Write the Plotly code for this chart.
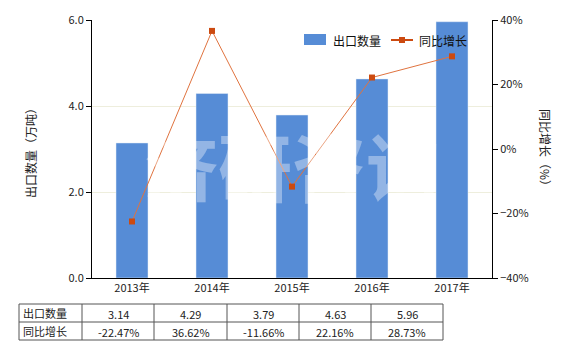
import plotly.graph_objects as go

years = ["2013年", "2014年", "2015年", "2016年", "2017年"]
export_qty = [3.14, 4.29, 3.79, 4.63, 5.96]
growth = [-22.47, 36.62, -11.66, 22.16, 28.73]
qty_labels = ["3.14", "4.29", "3.79", "4.63", "5.96"]
growth_labels = ["-22.47%", "36.62%", "-11.66%", "22.16%", "28.73%"]
row_names = ["出口数量", "同比增长"]

W, H = 580, 350
L, R, T, B = 92, 492, 20, 278
FONT = "Noto Sans CJK SC"
BAR_COLOR = "#568cd6"
LINE_COLOR = "#e0733f"
MARK_COLOR = "#cc4a10"

def px(x):
    return (x - L) / (R - L)

def py(y):
    return (B - y) / (B - T)

fig = go.Figure()
fig.add_trace(go.Bar(x=years, y=export_qty, name="出口数量", marker_color=BAR_COLOR,
                     width=0.4, yaxis="y", showlegend=False))
fig.add_trace(go.Scatter(x=years, y=growth, name="同比增长", yaxis="y2", mode="lines+markers",
                         line=dict(color=LINE_COLOR, width=1),
                         marker=dict(symbol="square", size=6, color=MARK_COLOR), showlegend=False))

shapes = []
annotations = []

# table
col_edges = [19, 82, 154, 227, 299, 371, 443]
row_edges = [304, 322, 340]
for xe in col_edges:
    shapes.append(dict(type="line", xref="paper", yref="paper", x0=px(xe), x1=px(xe),
                       y0=py(row_edges[0]), y1=py(row_edges[-1]), line=dict(color="#555", width=1)))
for ye in row_edges:
    shapes.append(dict(type="line", xref="paper", yref="paper", x0=px(col_edges[0]), x1=px(col_edges[-1]),
                       y0=py(ye), y1=py(ye), line=dict(color="#555", width=1)))
rows = [qty_labels, growth_labels]
for r, (name, vals) in enumerate(zip(row_names, rows)):
    yc = (row_edges[r] + row_edges[r + 1]) / 2
    annotations.append(dict(xref="paper", yref="paper", x=px(col_edges[0] + 2), y=py(yc),
                            text=name, showarrow=False, xanchor="left", yanchor="middle",
                            font=dict(size=11, color="#222", family=FONT)))
    for c, v in enumerate(vals):
        xc = (col_edges[c + 1] + col_edges[c + 2]) / 2
        annotations.append(dict(xref="paper", yref="paper", x=px(xc), y=py(yc + 1),
                                text=v, showarrow=False, xanchor="center", yanchor="middle",
                                font=dict(size=11, color="#222", family=FONT)))

# watermark
annotations.append(dict(xref="paper", yref="paper", x=px(292), y=py(163), text="济研咨询",
                        showarrow=False, xanchor="center", yanchor="middle",
                        font=dict(size=74, color="rgba(255,255,255,0.36)", family=FONT, weight="bold")))

# custom legend
shapes.append(dict(type="rect", xref="paper", yref="paper", x0=px(304), x1=px(326),
                   y0=py(45), y1=py(34), fillcolor=BAR_COLOR, line=dict(width=0)))
annotations.append(dict(xref="paper", yref="paper", x=px(331), y=py(40), text="出口数量",
                        showarrow=False, xanchor="left", yanchor="middle",
                        font=dict(size=12, color="#111", family=FONT)))
shapes.append(dict(type="line", xref="paper", yref="paper", x0=px(391), x1=px(413),
                   y0=py(40), y1=py(40), line=dict(color=MARK_COLOR, width=2)))
shapes.append(dict(type="rect", xref="paper", yref="paper", x0=px(399), x1=px(405),
                   y0=py(43), y1=py(37), fillcolor=MARK_COLOR, line=dict(width=0)))
annotations.append(dict(xref="paper", yref="paper", x=px(417), y=py(40), text="同比增长",
                        showarrow=False, xanchor="left", yanchor="middle",
                        font=dict(size=12, color="#111", family=FONT)))

# axis titles
annotations.append(dict(xref="paper", yref="paper", x=px(30), y=py(150), text="出口数量（万吨）",
                        textangle=-90, showarrow=False, xanchor="center", yanchor="middle",
                        font=dict(size=12, color="#222", family=FONT)))
annotations.append(dict(xref="paper", yref="paper", x=px(546), y=py(150), text="同比增长（%）",
                        textangle=90, showarrow=False, xanchor="center", yanchor="middle",
                        font=dict(size=12, color="#222", family=FONT)))

fig.update_layout(
    width=W, height=H,
    margin=dict(l=L, r=W - R, t=T, b=H - B),
    paper_bgcolor="white", plot_bgcolor="white",
    font=dict(family=FONT, size=11, color="#222"),
    xaxis=dict(showline=True, linecolor="#000", linewidth=1, ticks="", showgrid=False,
               tickfont=dict(size=11, color="#222"), fixedrange=True),
    yaxis=dict(range=[0, 6], dtick=2, tickformat=".1f", showline=True, linecolor="#000",
               linewidth=1, ticks="outside", ticklen=5, tickcolor="#000", showgrid=True,
               gridcolor="#eeeedd", gridwidth=1, zeroline=False, tickfont=dict(size=11, color="#222")),
    yaxis2=dict(range=[-40, 40], dtick=20, ticksuffix="%", overlaying="y", side="right",
                showline=True, linecolor="#000", linewidth=1, ticks="outside", ticklen=5,
                tickcolor="#000", showgrid=False, zeroline=False, tickfont=dict(size=11, color="#222")),
    bargap=0.6,
    shapes=shapes,
    annotations=annotations,
    showlegend=False,
)

fig.write_html("out.html")
